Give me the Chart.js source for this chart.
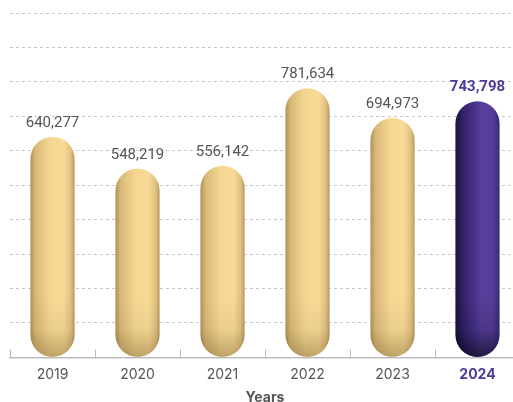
<!DOCTYPE html>
<html>
<head>
<meta charset="utf-8">
<script src="https://cdn.jsdelivr.net/npm/chart.js@4.4.1/dist/chart.umd.min.js"></script>
<style>
  html, body { margin: 0; padding: 0; background: #fff; overflow: hidden; }
  #wrap { position: relative; width: 522px; height: 402px; }
</style>
</head>
<body>
<div id="wrap"><canvas id="yearsChart"></canvas></div>
<script>
(function () {
  "use strict";

  const years = ["2019", "2020", "2021", "2022", "2023", "2024"];
  const totals = [640277, 548219, 556142, 781634, 694973, 743798];
  const highlightYear = "2024";

  const colors = {
    text: "#555555",
    accent: "#4f3a9c",
    grid: "#c8c8c8",
    axis: "#bdbdbd"
  };

  const tanStops = [[0, "#b2915a"], [0.12, "#d9b978"], [0.45, "#f5d792"], [0.75, "#f8da96"], [0.92, "#dfbf7e"], [1, "#b5965d"]];
  const purpleStops = [[0, "#1c103f"], [0.2, "#35236e"], [0.6, "#593f9d"], [0.85, "#563c98"], [1, "#3b2872"]];

  const barPct = 0.52;

  function isHighlight(index) {
    return years[index] === highlightYear;
  }

  function barFill(context) {
    const chart = context.chart;
    const xScale = chart.scales.x;
    if (!chart.chartArea || !xScale || context.dataIndex === undefined) {
      return isHighlight(context.dataIndex) ? "#553c98" : "#f3d590";
    }
    const center = xScale.getPixelForValue(context.dataIndex);
    const half = (xScale.width / years.length) * barPct / 2;
    const grad = chart.ctx.createLinearGradient(center - half, 0, center + half, 0);
    const stops = isHighlight(context.dataIndex) ? purpleStops : tanStops;
    stops.forEach(function (s) { grad.addColorStop(s[0], s[1]); });
    return grad;
  }

  function pillPath(ctx, x, top, w, bottom) {
    const r = w / 2;
    ctx.beginPath();
    ctx.moveTo(x - r, top + r);
    ctx.arc(x, top + r, r, Math.PI, 0);
    ctx.lineTo(x + r, bottom - r);
    ctx.arc(x, bottom - r, r, 0, Math.PI);
    ctx.closePath();
  }

  const decorations = {
    id: "decorations",
    afterDatasetsDraw: function (chart) {
      const ctx = chart.ctx;
      const area = chart.chartArea;
      const xScale = chart.scales.x;
      const step = xScale.width / years.length;
      const meta = chart.getDatasetMeta(0);

      // darker shading towards the bottom of each bar
      meta.data.forEach(function (bar, i) {
        const hl = isHighlight(i);
        const h = 60;
        ctx.save();
        pillPath(ctx, bar.x, bar.y, bar.width, bar.base);
        ctx.clip();
        const g = ctx.createLinearGradient(0, bar.base - h, 0, bar.base);
        g.addColorStop(0, hl ? "rgba(0,0,10,0)" : "rgba(60,40,0,0)");
        g.addColorStop(0.55, hl ? "rgba(0,0,10,0.12)" : "rgba(60,40,0,0.06)");
        g.addColorStop(1, hl ? "rgba(0,0,10,0.6)" : "rgba(60,40,0,0.3)");
        ctx.fillStyle = g;
        ctx.fillRect(bar.x - bar.width / 2, bar.base - h, bar.width, h);
        ctx.restore();
      });

      // short upward ticks between categories
      ctx.save();
      ctx.strokeStyle = colors.axis;
      ctx.lineWidth = 1;
      for (let i = 0; i <= years.length; i++) {
        const x = Math.round(area.left + i * step) + 0.5;
        ctx.beginPath();
        ctx.moveTo(x, area.bottom - 8);
        ctx.lineTo(x, area.bottom);
        ctx.stroke();
      }

      // value labels above each bar
      ctx.textAlign = "center";
      ctx.textBaseline = "bottom";
      meta.data.forEach(function (bar, i) {
        const hl = isHighlight(i);
        ctx.font = (hl ? "bold " : "") + "15px Roboto, sans-serif";
        ctx.fillStyle = hl ? colors.accent : colors.text;
        ctx.fillText(totals[i].toLocaleString("en-US"), bar.x, bar.y - 6);
      });
      ctx.restore();
    }
  };

  new Chart(document.getElementById("yearsChart"), {
    type: "bar",
    data: {
      labels: years,
      datasets: [{
        data: totals,
        backgroundColor: barFill,
        borderWidth: 0,
        borderRadius: 100,
        borderSkipped: false,
        categoryPercentage: 1,
        barPercentage: barPct
      }]
    },
    options: {
      responsive: true,
      maintainAspectRatio: false,
      animation: false,
      layout: { padding: { top: 13, left: 10, right: 2, bottom: 0 } },
      plugins: {
        legend: { display: false },
        tooltip: { enabled: false }
      },
      scales: {
        x: {
          grid: { display: true, drawOnChartArea: false, drawTicks: false },
          border: { display: true, color: colors.axis, width: 1.5 },
          ticks: {
            padding: 9,
            color: function (c) { return isHighlight(c.index) ? colors.accent : colors.text; },
            font: function (c) {
              return { family: "Inter, sans-serif", size: 14, weight: isHighlight(c.index) ? "bold" : "normal" };
            }
          },
          title: {
            display: true,
            text: "Years",
            color: colors.text,
            font: { family: "Inter, sans-serif", size: 14, weight: "bold" },
            padding: { top: -3, bottom: -4 }
          }
        },
        y: {
          min: 0,
          max: 1000000,
          ticks: { display: false, stepSize: 100000 },
          border: { display: false, dash: [3, 3] },
          grid: { color: colors.grid, lineWidth: 1, drawTicks: false }
        }
      }
    },
    plugins: [decorations]
  });
})();
</script>
</body>
</html>
